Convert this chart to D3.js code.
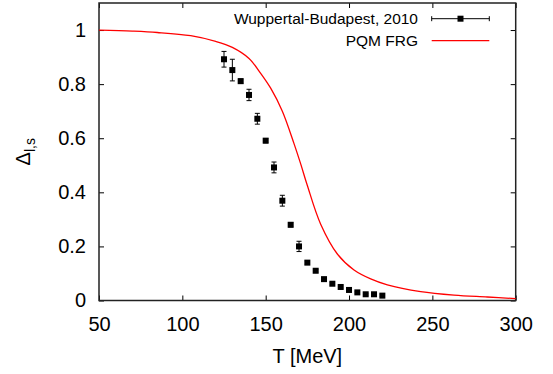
<!DOCTYPE html>
<html>
<head>
<meta charset="utf-8">
<script src="https://cdn.jsdelivr.net/npm/d3@7"></script>
<style>
  html, body { margin: 0; padding: 0; background: #fff; }
  text { font-family: "Liberation Sans", Arial, sans-serif; fill: #000; }
</style>
</head>
<body>
<div id="chart"></div>
<script>
// lattice points (Wuppertal-Budapest, 2010)
const latticeT = [125, 130, 135, 140, 145, 150, 155, 160, 165, 170, 175, 180, 185, 190, 195, 200, 205, 210, 215, 220];
const latticeD = [0.892, 0.852, 0.811, 0.760, 0.672, 0.591, 0.492, 0.369, 0.280, 0.200, 0.140, 0.110, 0.079, 0.062, 0.050, 0.039, 0.030, 0.023, 0.023, 0.018];
const latticeErr = [0.029, 0.040, 0.008, 0.021, 0.020, 0.008, 0.020, 0.020, 0.008, 0.019, 0.006, 0.005, 0.005, 0.004, 0.004, 0.003, 0.003, 0.003, 0.003, 0.003];

// PQM FRG curve
const frgT = [50, 70, 85, 105, 120, 130, 140, 147, 153, 160, 167, 171, 175, 183, 193, 203, 213, 223, 243, 263, 283, 300];
const frgD = [1.0, 0.996, 0.991, 0.979, 0.958, 0.936, 0.895, 0.840, 0.785, 0.700, 0.580, 0.505, 0.425, 0.282, 0.172, 0.113, 0.080, 0.058, 0.033, 0.020, 0.013, 0.007];

const xTicks = [50, 100, 150, 200, 250, 300];
const yTicks = [0, 0.2, 0.4, 0.6, 0.8, 1];

const width = 553;
const height = 374;
const margin = {top: 3, right: 37.3, bottom: 73.5, left: 99};

const svg = d3.select("#chart").append("svg")
  .attr("width", width)
  .attr("height", height);

const x = d3.scaleLinear().domain([50, 300]).range([margin.left, width - margin.right]);
const y = d3.scaleLinear().domain([0, 1.1]).range([height - margin.bottom, margin.top]);

const tickLen = 5;
const fontSize = 20;

// frame and ticks
const axisG = svg.append("g");

axisG.append("g")
  .attr("transform", `translate(0,${y(0)})`)
  .call(d3.axisBottom(x).tickValues(xTicks).tickSize(-tickLen).tickPadding(16).tickFormat(d3.format("d")))
  .call(g => g.selectAll("text").attr("font-size", fontSize).attr("font-family", null));

axisG.append("g")
  .attr("transform", `translate(0,${y(1.1)})`)
  .call(d3.axisTop(x).tickValues(xTicks).tickSize(-tickLen).tickFormat(""));

axisG.append("g")
  .attr("transform", `translate(${x(50)},0)`)
  .call(d3.axisLeft(y).tickValues(yTicks).tickSize(-tickLen).tickPadding(13).tickFormat(d => d === 0 || d === 1 ? d3.format("d")(d) : d3.format(".1f")(d)))
  .call(g => g.selectAll("text").attr("font-size", fontSize).attr("font-family", null));

axisG.append("g")
  .attr("transform", `translate(${x(300)},0)`)
  .call(d3.axisRight(y).tickValues(yTicks).tickSize(-tickLen).tickFormat(""));

axisG.selectAll(".domain").remove();
axisG.selectAll(".tick line").attr("stroke", "#000").attr("stroke-width", 1);

svg.append("rect")
  .attr("x", x(50)).attr("y", y(1.1))
  .attr("width", x(300) - x(50)).attr("height", y(0) - y(1.1))
  .attr("fill", "none").attr("stroke", "#222").attr("stroke-width", 1.5);

// axis titles
svg.append("text")
  .attr("x", (x(50) + x(300)) / 2)
  .attr("y", 363)
  .attr("text-anchor", "middle")
  .attr("font-size", fontSize)
  .text("T [MeV]");

const yLab = svg.append("text")
  .attr("transform", `translate(30,${(y(0) + y(1.1)) / 2}) rotate(-90)`)
  .attr("text-anchor", "middle")
  .attr("font-size", fontSize);
yLab.append("tspan").text("Δ");
yLab.append("tspan").attr("font-size", 14).attr("dy", 5).text("l,s");

// PQM FRG curve
const line = d3.line()
  .x((d, i) => x(frgT[i]))
  .y(d => y(d))
  .curve(d3.curveCatmullRom.alpha(0.5));

svg.append("path")
  .attr("d", line(frgD))
  .attr("fill", "none")
  .attr("stroke", "#ff0000")
  .attr("stroke-width", 1.3);

// lattice data with error bars
const cap = 2.5;
const pts = svg.append("g");
latticeT.forEach((t, i) => {
  const cx = x(t), lo = y(latticeD[i] - latticeErr[i]), hi = y(latticeD[i] + latticeErr[i]);
  const g = pts.append("g").attr("stroke", "#000").attr("stroke-width", 1);
  g.append("line").attr("x1", cx).attr("x2", cx).attr("y1", lo).attr("y2", hi);
  g.append("line").attr("x1", cx - cap).attr("x2", cx + cap).attr("y1", lo).attr("y2", lo);
  g.append("line").attr("x1", cx - cap).attr("x2", cx + cap).attr("y1", hi).attr("y2", hi);
  pts.append("rect")
    .attr("x", cx - 3).attr("y", y(latticeD[i]) - 3)
    .attr("width", 6).attr("height", 6)
    .attr("fill", "#000");
});

// legend
const legend = svg.append("g");
const lx0 = 431.7, lx1 = 489.3, textX = 418;
const rows = [{label: "Wuppertal-Budapest, 2010", y: 18.7}, {label: "PQM FRG", y: 40.7}];
rows.forEach(r => {
  legend.append("text")
    .attr("x", textX).attr("y", r.y + 5.3)
    .attr("text-anchor", "end")
    .attr("font-size", 15.5)
    .text(r.label);
});
const r0 = rows[0].y;
legend.append("line").attr("x1", lx0).attr("x2", lx1).attr("y1", r0).attr("y2", r0).attr("stroke", "#000");
legend.append("line").attr("x1", lx0).attr("x2", lx0).attr("y1", r0 - 2.5).attr("y2", r0 + 2.5).attr("stroke", "#000");
legend.append("line").attr("x1", lx1).attr("x2", lx1).attr("y1", r0 - 2.5).attr("y2", r0 + 2.5).attr("stroke", "#000");
legend.append("rect").attr("x", (lx0 + lx1) / 2 - 3).attr("y", r0 - 3).attr("width", 6).attr("height", 6).attr("fill", "#000");
legend.append("line").attr("x1", lx0).attr("x2", lx1).attr("y1", rows[1].y).attr("y2", rows[1].y)
  .attr("stroke", "#ff0000").attr("stroke-width", 1.3);
</script>
</body>
</html>
